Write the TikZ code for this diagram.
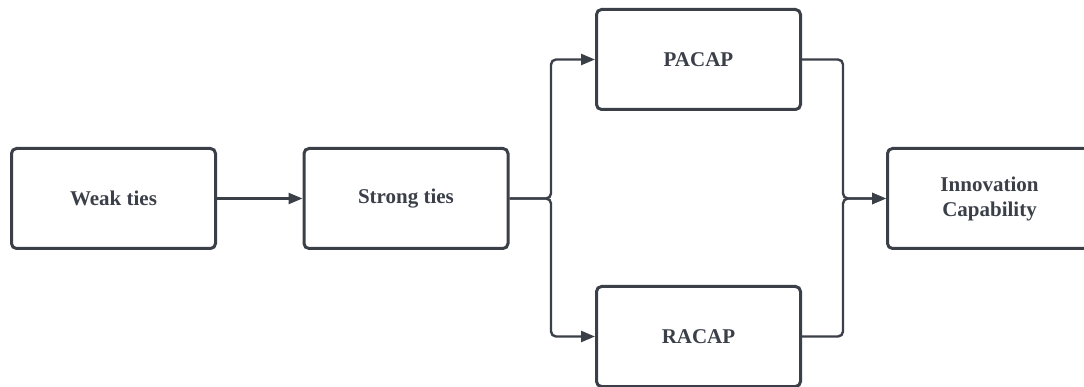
\documentclass[tikz,border=0pt]{standalone}
\usepackage{fontspec}
\setmainfont{Liberation Serif}
\usetikzlibrary{arrows.meta}
\definecolor{ink}{HTML}{3A3F48}
\tikzset{
  box/.style={draw=ink, line width=3pt, rounded corners=5pt, minimum width=204pt, minimum height=100pt, inner sep=0pt, align=center, text=ink, font=\fontsize{21}{25}\selectfont\bfseries},
  conn/.style={draw=ink, line width=2.4pt, rounded corners=5pt, -{Triangle[length=14pt,width=11pt]}},
}
\begin{document}
\begin{tikzpicture}[x=1pt,y=-1pt]
\useasboundingbox (0,0) rectangle (1084,387);
\node[box] (weak) at (113.5,198.5) {Weak ties};
\node[box] (strong) at (406,198.5) {Strong ties};
\node[box] (pacap) at (698.5,59.5) {PACAP};
\node[box] (racap) at (698.5,336.5) {RACAP};
\node[box] (innov) at (989.5,198.5) {Innovation\\Capability};
\coordinate (j1) at (551,198.5);
\coordinate (j2) at (843,198.5);
\draw[conn] (weak.east) -- (strong.west);
\draw[conn] (strong.east) -- (j1) |- (pacap.west);
\draw[conn] (strong.east) -- (j1) |- (racap.west);
\draw[conn] (pacap.east) -| (j2) -- (innov.west);
\draw[conn] (racap.east) -| (j2) -- (innov.west);
\end{tikzpicture}
\end{document}
